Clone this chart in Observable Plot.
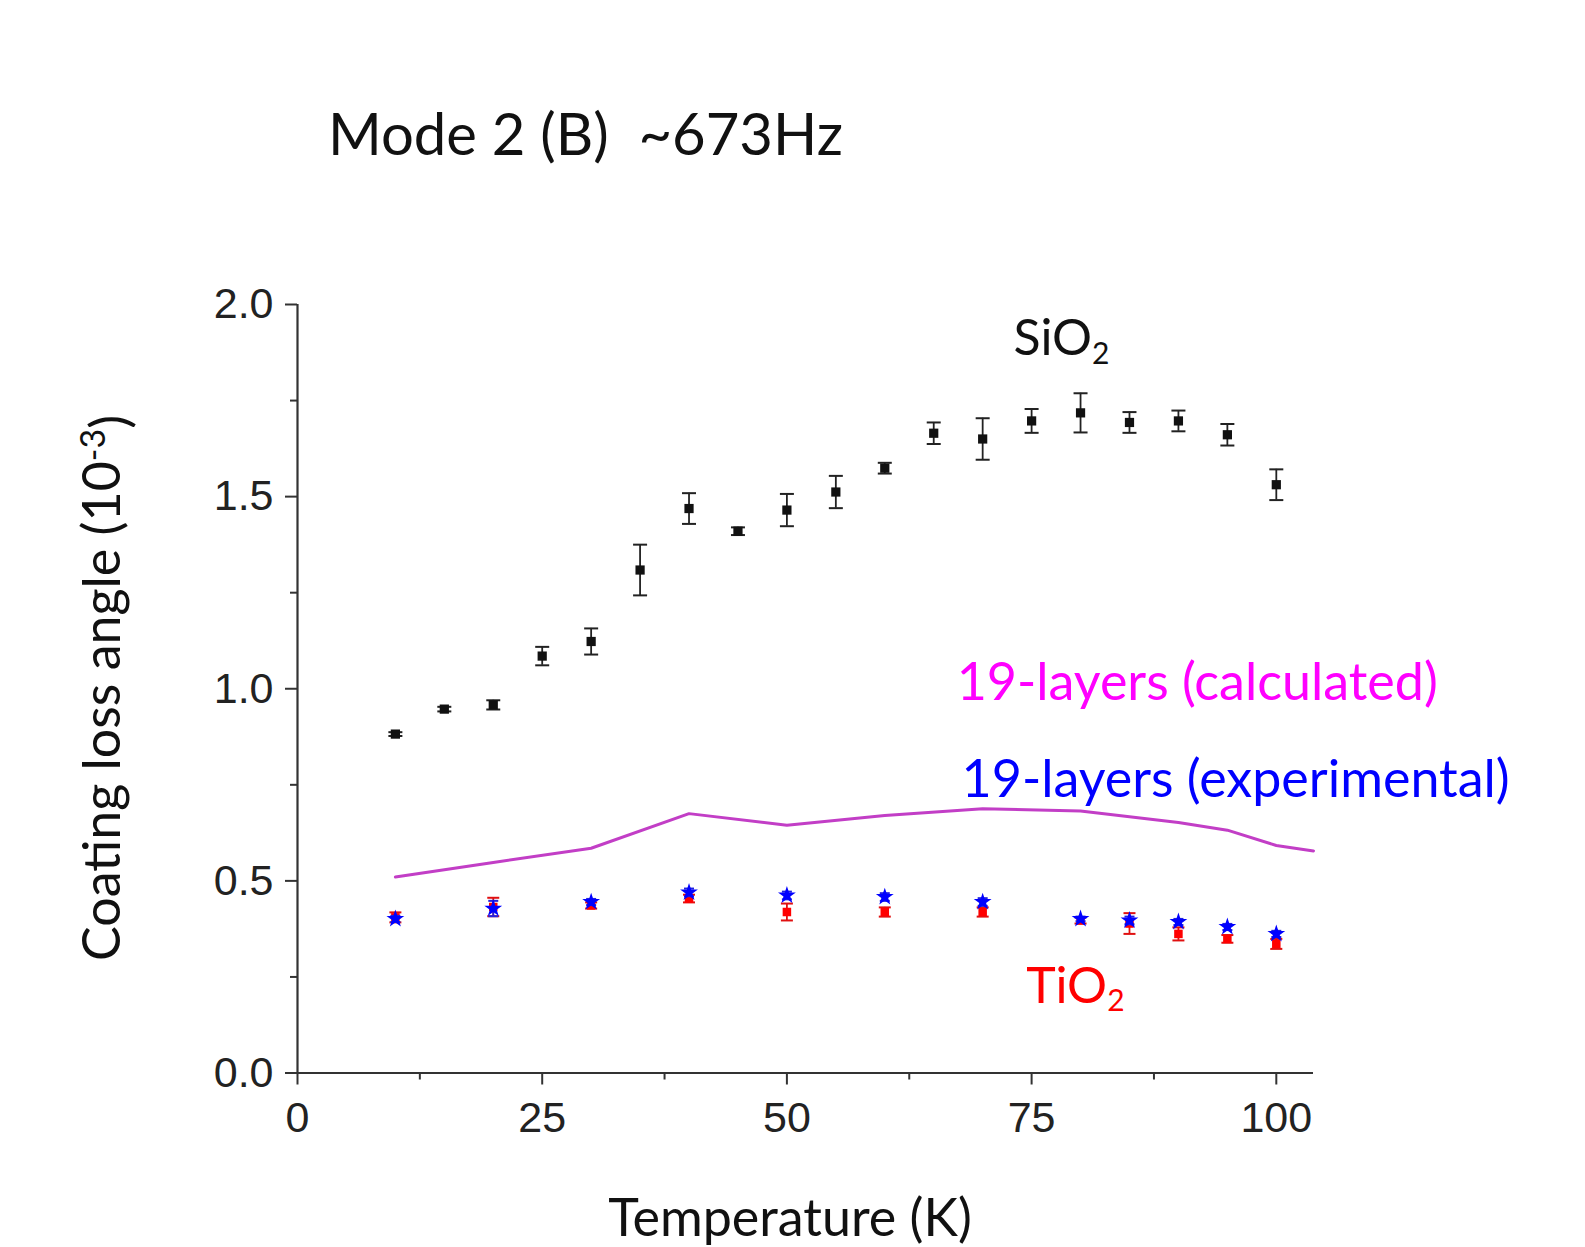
<!DOCTYPE html>
<html><head><meta charset="utf-8">
<script src="https://cdn.jsdelivr.net/npm/d3@7"></script>
<script src="https://cdn.jsdelivr.net/npm/@observablehq/plot@0.6"></script>
<style>
html,body{margin:0;padding:0;background:#fff;}
#wrap{position:relative;width:1585px;height:1247px;overflow:hidden;background:#fff;}
#title{position:absolute;left:328px;top:104px;font-family:Lato,"Open Sans",sans-serif;font-size:58px;line-height:58px;white-space:pre;color:#111;}
#chart{position:absolute;left:0;top:0;}
</style></head><body>
<div id="wrap"><div id="chart"></div><div id="title">Mode 2 (B)  ~673Hz</div></div>
<script>
// ---- data ----
const sio2T   = [10, 15, 20, 25, 30, 35, 40, 45, 50, 55, 60, 65, 70, 75, 80, 85, 90, 95, 100];
const sio2V   = [0.882, 0.947, 0.958, 1.085, 1.123, 1.309, 1.469, 1.410, 1.465, 1.512, 1.574, 1.665, 1.650, 1.697, 1.718, 1.693, 1.697, 1.661, 1.531];
const sio2Err = [0.005, 0.006, 0.012, 0.024, 0.034, 0.066, 0.040, 0.010, 0.042, 0.042, 0.014, 0.028, 0.054, 0.031, 0.051, 0.027, 0.027, 0.028, 0.040];

const tioT    = [10, 20, 30, 40, 50, 60, 70, 80, 85, 90, 95, 100];
const tioV    = [0.405, 0.432, 0.436, 0.454, 0.419, 0.419, 0.419, 0.397, 0.389, 0.362, 0.349, 0.336];
const tioErr  = [0.013, 0.024, 0.008, 0.010, 0.022, 0.012, 0.012, 0.008, 0.027, 0.017, 0.010, 0.013];

const expT    = [10, 20, 30, 40, 50, 60, 70, 80, 85, 90, 95, 100];
const expV    = [0.401, 0.428, 0.445, 0.470, 0.462, 0.458, 0.445, 0.401, 0.397, 0.393, 0.380, 0.362];
const expErr  = [0.008, 0.020, 0.008, 0.010, 0.010, 0.010, 0.010, 0.006, 0.010, 0.008, 0.008, 0.008];

const calcT   = [10, 20, 30, 40, 50, 60, 70, 80, 90, 95, 100, 103.8];
const calcV   = [0.510, 0.548, 0.585, 0.675, 0.645, 0.670, 0.688, 0.682, 0.652, 0.632, 0.592, 0.578];

const xTicks  = [0, 25, 50, 75, 100];
const xMinor  = [12.5, 37.5, 62.5, 87.5];
const yTicks  = [0, 0.5, 1.0, 1.5, 2.0];
const yMinor  = [0.25, 0.75, 1.25, 1.75];

const labelText = ["SiO", "19-layers (calculated)", "19-layers (experimental)", "TiO"];
const labelSub  = ["2", "", "", "2"];
const labelT    = [73.2, 67.4, 67.9, 74.5];
const labelV    = [1.866, 0.970, 0.717, 0.181];
const labelColor = ["#111", "#ff00ff", "#0000ff", "#ff0000"];

// ---- build tables ----
const sio2 = sio2T.map((T, i) => ({T, v: sio2V[i], e: sio2Err[i]}));
const tio  = tioT.map((T, i) => ({T, v: tioV[i], e: tioErr[i]}));
const exp  = expT.map((T, i) => ({T, v: expV[i], e: expErr[i]}));
const calc = calcT.map((T, i) => ({T, v: calcV[i]}));

const hline = {draw(ctx, size) { const w = Math.sqrt(size / Math.PI); ctx.moveTo(-w, 0); ctx.lineTo(w, 0); }};

function errMarks(data, color, capR) {
  return [
    Plot.ruleX(data, {x: "T", y1: d => d.v - d.e, y2: d => d.v + d.e, stroke: color, strokeWidth: 1.8}),
    Plot.dot(data, {x: "T", y: d => d.v - d.e, symbol: hline, r: capR, stroke: color, fill: "none", strokeWidth: 2}),
    Plot.dot(data, {x: "T", y: d => d.v + d.e, symbol: hline, r: capR, stroke: color, fill: "none", strokeWidth: 2})
  ];
}

const axisColor = "#333";
const plot = Plot.plot({
  width: 1585, height: 1247,
  marginLeft: 297, marginRight: 272, marginTop: 304, marginBottom: 174.5,
  style: {fontFamily: "'Liberation Sans', Arial, sans-serif", fontSize: "43px", color: "#222", background: "white"},
  x: {domain: [0, 103.8], label: null},
  y: {domain: [0, 2], label: null},
  marks: [
    Plot.axisX({ticks: xTicks, tickSize: 12, tickPadding: 16, label: null, stroke: axisColor, strokeWidth: 2, fill: "#222"}),
    Plot.axisX({ticks: xMinor, tickSize: 7, text: null, label: null, stroke: axisColor, strokeWidth: 2}),
    Plot.axisY({ticks: yTicks, tickSize: 12, tickPadding: 12, tickFormat: d3.format(".1f"), label: null, stroke: axisColor, strokeWidth: 2, fill: "#222"}),
    Plot.axisY({ticks: yMinor, tickSize: 7, text: null, label: null, stroke: axisColor, strokeWidth: 2}),
    Plot.ruleX([0], {stroke: axisColor, strokeWidth: 2.2}),
    Plot.ruleY([0], {stroke: axisColor, strokeWidth: 2.2}),
    Plot.line(calc, {x: "T", y: "v", stroke: "#c23ec6", strokeWidth: 3}),
    ...errMarks(sio2, "#222", 7),
    Plot.dot(sio2, {x: "T", y: "v", symbol: "square", r: 5.2, fill: "#111"}),
    ...errMarks(tio, "#e01010", 6),
    Plot.dot(tio, {x: "T", y: "v", symbol: "square", r: 4.8, fill: "#ff0000"}),
    ...errMarks(exp, "#2020e0", 5),
    Plot.dot(exp, {x: "T", y: "v", symbol: "star", r: 5.6, fill: "#0000ff"})
  ]
});
document.getElementById("chart").appendChild(plot);

// ---- annotations and axis titles (real text, placed through the plot scales) ----
const sx = plot.scale("x"), sy = plot.scale("y");
const svg = d3.select(plot);
const g = svg.append("g").attr("font-family", "Lato, 'Open Sans', sans-serif");
labelText.forEach((t, i) => {
  const txt = g.append("text")
    .attr("x", sx.apply(labelT[i])).attr("y", sy.apply(labelV[i]))
    .attr("font-size", labelSub[i] ? 50 : 52).attr("fill", labelColor[i]).attr("text-anchor", "start");
  txt.append("tspan").text(t);
  if (labelSub[i]) txt.append("tspan").attr("dy", "0.28em").attr("font-size", 30).text(labelSub[i]);
});
// x title
g.append("text").attr("x", 790).attr("y", 1236).attr("text-anchor", "middle")
  .attr("font-size", 52).attr("fill", "#111").text("Temperature (K)");
// y title
const yt = g.append("text").attr("transform", "translate(120,688) rotate(-90)")
  .attr("text-anchor", "middle").attr("font-size", 52).attr("fill", "#111");
yt.append("tspan").text("Coating loss angle (10");
yt.append("tspan").attr("dy", "-0.45em").attr("font-size", 34).text("-3");
yt.append("tspan").attr("dy", "0.45em").text(")");
</script>
</body></html>
